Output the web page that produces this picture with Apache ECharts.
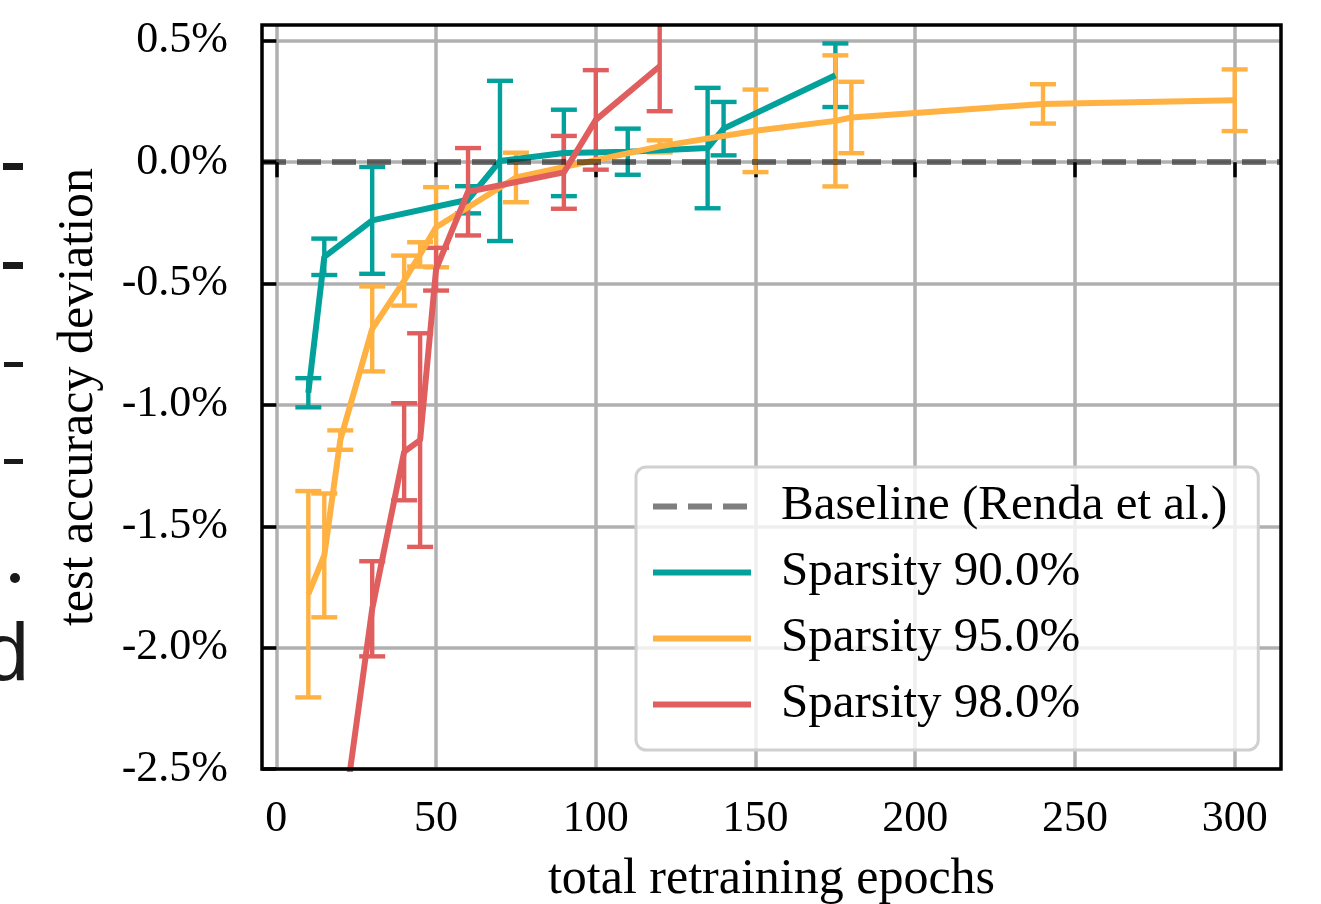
<!DOCTYPE html>
<html lang="en">
<head>
    <meta charset="UTF-8"/>
    <title>test accuracy deviation</title>
    <script src="https://cdn.jsdelivr.net/npm/echarts@6.0.0/dist/echarts.min.js"></script>
    <style>
        html, body { margin: 0; padding: 0; background: #fff; }
        #chartBox { width: 1321px; height: 904px; }
    </style>
</head>
<body>
<div id="chartBox"></div>

<script type="text/javascript">
    // tick labels
    var xTicks = [0, 50, 100, 150, 200, 250, 300];
    var yTicks = [-2.5, -2.0, -1.5, -1.0, -0.5, 0.0, 0.5];

    // baseline (Renda et al.) = 0 deviation
    var baselineValue = 0;

    // Sparsity 90.0%
    var s90Epochs = [10, 15, 30, 60, 70, 90, 110, 135, 140, 175];
    var s90Mean = [-0.95, -0.39, -0.24, -0.155, 0.005, 0.038, 0.043, 0.058, 0.138, 0.358];
    var s90Err = [0.06, 0.075, 0.22, 0.056, 0.33, 0.178, 0.095, 0.248, 0.11, 0.131];

    // Sparsity 95.0%
    var s95Epochs = [10, 15, 20, 30, 40, 45, 50, 75, 120, 150, 175, 180, 240, 300];
    var s95Mean = [-1.78, -1.62, -1.145, -0.687, -0.488, -0.38, -0.268, -0.063, 0.065, 0.129, 0.17, 0.184, 0.24, 0.255];
    var s95Err = [0.425, 0.255, 0.04, 0.175, 0.103, 0.05, 0.165, 0.102, 0.025, 0.17, 0.27, 0.147, 0.081, 0.127];

    // Sparsity 98.0%
    var s98Epochs = [20, 30, 40, 45, 50, 60, 90, 100, 120];
    var s98Mean = [-2.8, -1.84, -1.193, -1.145, -0.441, -0.122, -0.042, 0.174, 0.395];
    var s98Err = [0.2, 0.196, 0.2, 0.44, 0.088, 0.18, 0.15, 0.205, 0.185];

    var teal = '#03a19b';
    var orange = '#ffb142';
    var red = '#e05e5e';
    var serif = '"Liberation Serif", "DejaVu Serif", serif';
    var capHalf = 13;

    function lineSeries(name, color, xs, ys) {
        return {
            name: name,
            type: 'line',
            symbol: 'none',
            clip: true,
            data: xs.map(function (x, i) { return [x, ys[i]]; }),
            lineStyle: {color: color, width: 6},
            itemStyle: {color: color}
        };
    }

    function errSeries(name, color, xs, ys, es) {
        return {
            name: name + ' err',
            type: 'custom',
            clip: true,
            silent: true,
            data: xs.map(function (x, i) { return [x, ys[i] - es[i], ys[i] + es[i]]; }),
            encode: {x: 0, y: [1, 2]},
            renderItem: function (params, api) {
                var hi = api.coord([api.value(0), api.value(2)]);
                var lo = api.coord([api.value(0), api.value(1)]);
                var st = {stroke: color, lineWidth: 4.4};
                return {
                    type: 'group',
                    children: [
                        {type: 'line', shape: {x1: hi[0], y1: hi[1], x2: lo[0], y2: lo[1]}, style: st},
                        {type: 'line', shape: {x1: hi[0] - capHalf, y1: hi[1], x2: hi[0] + capHalf, y2: hi[1]}, style: st},
                        {type: 'line', shape: {x1: lo[0] - capHalf, y1: lo[1], x2: lo[0] + capHalf, y2: lo[1]}, style: st}
                    ]
                };
            }
        };
    }

    var baseStyle = {color: 'rgba(0,0,0,0.5)', width: 6, type: [24, 11]};

    var myChart = echarts.init(document.getElementById('chartBox'));
    var option = {
        animation: false,
        grid: {
            left: 262, right: 40, top: 25, bottom: 135,
            outerBoundsMode: 'none',
            show: true, borderColor: '#000', borderWidth: 3.5, z: 10
        },
        legend: {
            data: ['Baseline (Renda et al.)', 'Sparsity 90.0%', 'Sparsity 95.0%', 'Sparsity 98.0%'],
            orient: 'vertical',
            left: 636,
            top: 467,
            padding: [15, 31, 21, 14],
            itemWidth: 98,
            itemHeight: 20,
            itemGap: 17,
            selectedMode: false,
            lineStyle: {width: 6},
            itemStyle: {opacity: 0},
            backgroundColor: 'rgba(255,255,255,0.8)',
            borderColor: '#d0d0d0',
            borderWidth: 3,
            borderRadius: 10,
            textStyle: {
                fontFamily: serif, fontSize: 49, lineHeight: 49, color: '#000',
                padding: [0, 0, 0, 25]
            }
        },
        xAxis: {
            type: 'value',
            min: -4.5,
            max: 314.5,
            name: 'total retraining epochs',
            nameLocation: 'middle',
            nameGap: 86,
            nameTextStyle: {fontFamily: serif, fontSize: 50, color: '#000'},
            axisLine: {show: false},
            axisTick: {show: true, length: 15, lineStyle: {color: '#000', width: 3.5}, customValues: xTicks},
            axisLabel: {
                customValues: xTicks, margin: 28,
                fontFamily: serif, fontSize: 44, color: '#000'
            },
            splitLine: {show: true, lineStyle: {color: '#b0b0b0', width: 3.5}}
        },
        yAxis: {
            type: 'value',
            min: -2.5,
            max: 0.565,
            name: 'test accuracy deviation',
            nameLocation: 'middle',
            nameGap: 158,
            nameTextStyle: {fontFamily: serif, fontSize: 50, color: '#000'},
            axisLine: {show: false},
            axisTick: {show: true, length: 15, lineStyle: {color: '#000', width: 3.5}, customValues: yTicks},
            axisLabel: {
                customValues: yTicks, margin: 34,
                fontFamily: serif, fontSize: 44, color: '#000',
                formatter: function (v) { return v.toFixed(1) + '%'; }
            },
            splitLine: {show: true, lineStyle: {color: '#b0b0b0', width: 3.5}}
        },
        // fragments of the neighbouring panel cut off at the left edge
        graphic: [
            {type: 'rect', shape: {x: 3, y: 163, width: 20, height: 7}, style: {fill: '#1a1a1a'}},
            {type: 'rect', shape: {x: 3, y: 262, width: 20, height: 7}, style: {fill: '#1a1a1a'}},
            {type: 'rect', shape: {x: 4, y: 362, width: 19, height: 5}, style: {fill: '#1a1a1a'}},
            {type: 'rect', shape: {x: 4, y: 459, width: 19, height: 5}, style: {fill: '#1a1a1a'}},
            {type: 'circle', shape: {cx: 15, cy: 578, r: 5}, style: {fill: '#1a1a1a'}},
            {
                type: 'text', x: -16, y: 658,
                style: {text: 'd', font: '81px "Liberation Sans"', fill: '#1a1a1a', verticalAlign: 'middle'}
            }
        ],
        series: [
            {
                name: 'Baseline (Renda et al.)',
                type: 'line',
                symbol: 'none',
                data: [],
                lineStyle: baseStyle,
                itemStyle: {color: 'rgba(0,0,0,0.5)'},
                markLine: {
                    silent: true,
                    symbol: ['none', 'none'],
                    label: {show: false},
                    lineStyle: baseStyle,
                    data: [{yAxis: baselineValue}]
                }
            },
            lineSeries('Sparsity 90.0%', teal, s90Epochs, s90Mean),
            errSeries('Sparsity 90.0%', teal, s90Epochs, s90Mean, s90Err),
            lineSeries('Sparsity 95.0%', orange, s95Epochs, s95Mean),
            errSeries('Sparsity 95.0%', orange, s95Epochs, s95Mean, s95Err),
            lineSeries('Sparsity 98.0%', red, s98Epochs, s98Mean),
            errSeries('Sparsity 98.0%', red, s98Epochs, s98Mean, s98Err)
        ]
    };
    myChart.setOption(option);
</script>
</body>
</html>
